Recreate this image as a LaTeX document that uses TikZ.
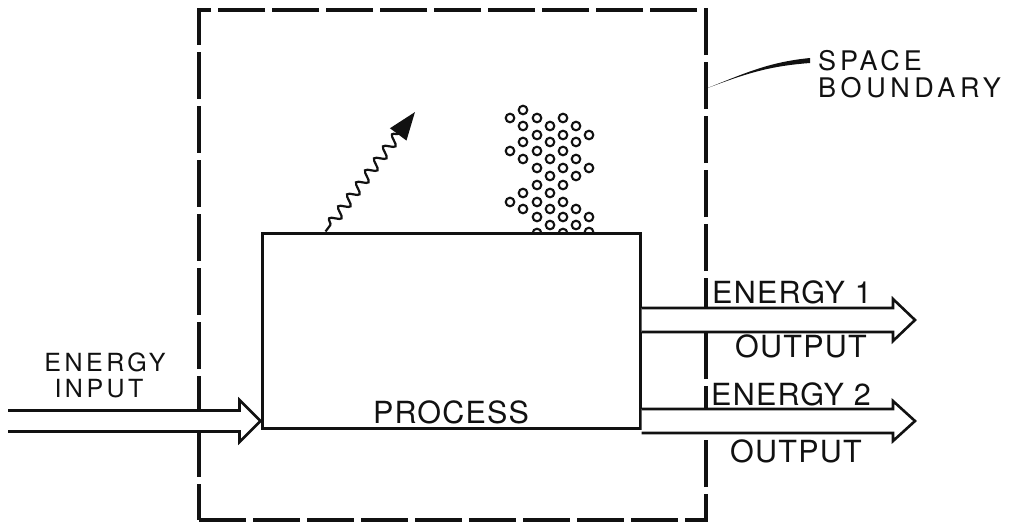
\documentclass[tikz,border=0pt]{standalone}
\usepackage{fontspec}
\setmainfont[LetterSpace=4]{TeX Gyre Heros}
\usepackage{xcolor}
\definecolor{cInk}{HTML}{111111}
\usepackage{tikz}
\usetikzlibrary{positioning,arrows.meta,calc,decorations.pathmorphing}
\newcommand{\lblsize}{\fontsize{30.5}{30}\selectfont}
\newcommand{\widesize}{\fontsize{27}{27}\selectfont\addfontfeature{LetterSpace=14}}
\newcommand{\inpsize}{\fontsize{25}{25}\selectfont\addfontfeature{LetterSpace=14}}
% open double-line arrow: from #1 to tip #2, half shaft #3, half head #4, head length #5
\newcommand{\hollowarrow}[5]{%
  \draw[arrow-hollow] ($(#1)+(0,-#3)$) -- ($(#2)+(-#5,-#3)$) -- ($(#2)+(-#5,-#4)$)
    -- (#2) -- ($(#2)+(-#5,#4)$) -- ($(#2)+(-#5,#3)$) -- ($(#1)+(0,#3)$);}
\tikzset{
  node-box/.style={draw=cInk,line width=3pt,fill=white,inner sep=0pt,
    minimum width=378pt,minimum height=195pt},
  node-space/.style={draw=cInk,line width=3.2pt,inner sep=0pt,
    dash pattern=on 47pt off 7pt,minimum width=507pt,minimum height=510pt},
  node-text/.style={inner sep=0pt,text=cInk,font=\lblsize},
  bubble/.style={draw=cInk,line width=2.1pt},
  arrow-hollow/.style={draw=cInk,line width=2.6pt,fill=white,line join=miter},
  arrow-ray/.style={draw=cInk,line width=2.2pt,-{Triangle[length=28pt,width=20pt]},
    decorate,decoration={snake,segment length=15pt,amplitude=5pt,
      pre length=8pt,post length=24pt}},
}

\begin{document}
\begin{tikzpicture}[x=1pt,y=-1pt]
  \useasboundingbox (0,0) rectangle (1024,522);
  \node[node-space] (space) at (452.5,265) {};
  % rising bubbles, half hidden by the box
  \foreach \bx/\by in {510/118,510/151,510/202,
      523/110,523/126,523/142,523/159,523/193,523/209,
      537/118,537/135,537/151,537/168,537/185,537/202,537/217,537/233,
      550/126,550/142,550/159,550/176,550/193,550/209,550/225,
      563/118,563/135,563/151,563/168,563/185,563/202,563/217,563/233,
      576/126,576/142,576/159,576/176,576/209,576/225,
      589/135,589/168,589/217,589/232}
    \draw[bubble] (\bx,\by) circle[radius=4.3pt];
  \node[node-box] (proc) at (451,330.5) {};
  \node[node-text,anchor=base] (proc-lbl) at (451,423) {PROCESS};
  % radiated energy
  \coordinate (ray-base) at ($(proc.north west)+(65,0)$);
  \coordinate (ray-tip) at (415,112);
  \draw[arrow-ray] (ray-base) -- (ray-tip);
  % input
  \coordinate (in-start) at (8,421);
  \coordinate (in-tip) at (proc.west |- in-start);
  \hollowarrow{in-start}{in-tip}{10.5}{21}{21}
  \node[node-text,font=\inpsize,anchor=base] (in-lbl-a) at (105,371) {ENERGY};
  \node[node-text,font=\inpsize,anchor=base] (in-lbl-b) at (99,397) {INPUT};
  % outputs
  \coordinate (out1-start) at (proc.east |- 0,320);
  \coordinate (out1-tip) at (915,320);
  \coordinate (out2-start) at (proc.east |- 0,421);
  \coordinate (out2-tip) at (915,421);
  \hollowarrow{out1-start}{out1-tip}{12}{21}{22}
  \hollowarrow{out2-start}{out2-tip}{12}{20}{22}
  \node[node-text,anchor=base west] (out1-top) at (712,303) {ENERGY\hspace{10pt}1};
  \node[node-text,anchor=base west] (out1-bot) at (735,357) {OUTPUT};
  \node[node-text,anchor=base west] (out2-top) at (711,405) {ENERGY\hspace{10pt}2};
  \node[node-text,anchor=base west] (out2-bot) at (730,462) {OUTPUT};
  % boundary label
  \node[node-text,font=\widesize,anchor=base west] (sb-a) at (818,70) {SPACE};
  \node[node-text,font=\widesize,anchor=base west] (sb-b) at (818,97)
    {\addfontfeature{LetterSpace=17}BOUNDARY};
  \coordinate (lead) at (space.east |- 0,88);
  \fill[cInk] (lead) .. controls +(40,-16) and +(-40,4) .. ($(sb-a.west |- 0,58)+(-8,0)$)
    -- ($(sb-a.west |- 0,63)+(-8,0)$) .. controls +(-40,3) and +(40,-15) .. (lead) -- cycle;
\end{tikzpicture}
\end{document}
